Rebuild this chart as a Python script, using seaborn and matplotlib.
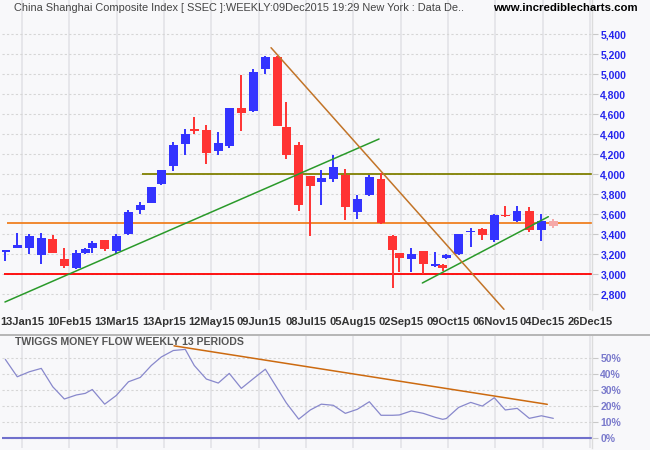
import numpy as np
import pandas as pd
import matplotlib
matplotlib.use("Agg")
import matplotlib.pyplot as plt
import seaborn as sns

# --- DATA ---
# x in bar units: 0 = 13Jan15 gridline, 4 bars per gridline
candle_x = [-1.41, -0.40, 0.62, 1.63, 2.60, 3.58, 4.59, 5.35, 5.94, 6.99,
            7.97, 9.00, 10.00, 10.93, 11.78, 12.79, 13.80, 14.56, 15.58, 16.59,
            17.52, 18.54, 19.55, 20.57, 21.58, 22.34, 23.39, 24.37, 25.30, 26.31,
            27.33, 28.34, 29.36, 30.35, 31.32, 31.89, 32.91, 33.92, 34.94, 35.56,
            35.87, 36.91, 37.93, 38.91, 39.92, 40.85, 41.86, 42.88, 43.90, 44.91]
opens = [3225, 3263, 3263, 3193, 3350, 3150, 3063, 3210, 3260, 3340,
         3230, 3400, 3640, 3713, 3900, 4083, 4303, 4445, 4440, 4233,
         4283, 4660, 4630, 5053, 5167, 4467, 4287, 3980, 3923, 3953,
         3993, 3623, 3793, 3950, 3380, 3207, 3153, 3230, 3080, 3087,
         3157, 3200, 3417, 3450, 3340, 3593, 3533, 3630, 3443, 3530]
closes = [3240, 3290, 3380, 3360, 3213, 3083, 3210, 3247, 3313, 3250,
          3380, 3620, 3690, 3870, 4040, 4290, 4400, 4435, 4213, 4307,
          4660, 4613, 5020, 5167, 4483, 4193, 3693, 3883, 3960, 4070,
          3673, 3747, 3970, 3510, 3243, 3163, 3197, 3103, 3100, 3060,
          3187, 3400, 3427, 3393, 3590, 3583, 3630, 3440, 3530, 3483]
highs = [3245, 3413, 3400, 3413, 3390, 3260, 3240, 3260, 3330, 3340,
         3403, 3640, 3717, 3875, 4045, 4320, 4450, 4570, 4490, 4420,
         4665, 4990, 5050, 5183, 5180, 4720, 4320, 3985, 4040, 4190,
         4050, 3790, 3993, 4010, 3390, 3210, 3257, 3230, 3220, 3103,
         3197, 3405, 3457, 3463, 3600, 3680, 3680, 3670, 3600, 3550]
lows = [3135, 3260, 3200, 3100, 3213, 3063, 3047, 3200, 3210, 3233,
        3203, 3390, 3603, 3710, 3890, 4033, 4190, 4400, 4100, 4190,
        4263, 4433, 4623, 5003, 4480, 4147, 3633, 3383, 3693, 3923,
        3543, 3553, 3783, 3500, 2863, 3023, 3023, 3003, 3075, 3030,
        3147, 3190, 3273, 3340, 3323, 3573, 3523, 3423, 3330, 3463]

tmf = [49.0, 38.2, 41.3, 43.4, 32.0, 24.4, 26.9, 27.9, 30.3, 21.2,
       26.6, 35.1, 37.8, 45.2, 50.5, 54.5, 55.2, 45.2, 36.8, 34.3,
       40.3, 31.0, 37.0, 42.9, 31.0, 22.0, 11.9, 17.6, 21.2, 20.5,
       15.5, 18.0, 22.7, 14.3, 14.3, 14.5, 17.0, 15.5, 13.0, 11.8,
       12.3, 19.2, 22.3, 20.0, 25.2, 17.6, 18.6, 12.4, 14.0, 12.4]

tick_pos = list(range(0, 49, 4))
tick_labels = ["13Jan15", "10Feb15", "13Mar15", "13Apr15", "12May15", "09Jun15",
               "08Jul15", "05Aug15", "02Sep15", "09Oct15", "06Nov15", "04Dec15",
               "26Dec15"]
price_ticks = list(range(2800, 5401, 200))
tmf_ticks = [0, 10, 20, 30, 40, 50]

# support / resistance levels: (price, start x)
level_olive = (4000, 10.14)
level_orange = (3510, -1.27)
level_red = (3000, -1.52)

# trendlines: x pair, y pair
green1_x, green1_y = [-1.44, 30.18], [2720, 4350]
green2_x, green2_y = [33.84, 44.49], [2910, 3573]
brown_x, brown_y = [21.05, 40.74], [5263, 2647]
tmf_trend_x, tmf_trend_y = [12.85, 44.40], [57.4, 21.1]

# --- STYLE ---
BG = "#f8f8fa"
UP = "#3333ff"
DOWN = "#ff3333"
LAST = "#f5a9a9"


def generate_graph():
    sns.set_style("whitegrid")
    plt.rcParams["font.family"] = ["Liberation Sans", "DejaVu Sans"]

    fig = plt.figure(figsize=(6.5, 4.5), dpi=100, facecolor=BG)
    W, H = 650.0, 450.0
    ax1 = fig.add_axes([2 / W, 1 - 310 / H, 590 / W, 310 / H])
    ax2 = fig.add_axes([2 / W, 1 - 448 / H, 590 / W, 112 / H])

    df = pd.DataFrame({"x": candle_x, "open": opens, "close": closes,
                       "high": highs, "low": lows, "tmf": tmf})

    xlim = (-1.69, 48.18)
    for ax in (ax1, ax2):
        ax.set_facecolor(BG)
        ax.set_xlim(*xlim)
        ax.set_xticks(tick_pos)
        ax.grid(axis="x", color="#e6e6ea", linewidth=1.4, linestyle="-")
        ax.grid(axis="y", color="#d6d6d6", linewidth=0.8, linestyle=(0, (2, 2)))
        for s in ("top", "left", "bottom"):
            ax.spines[s].set_visible(False)
        ax.spines["right"].set_color("#dcdcdc")
        ax.spines["right"].set_linewidth(1.0)
        ax.yaxis.tick_right()

    # --- PRICE PANEL ---
    ax1.set_ylim(2640, 5740)
    colors = []
    for i, r in df.iterrows():
        if i == len(df) - 1:
            colors.append(LAST)  # current (incomplete) week
        elif r["close"] >= r["open"]:
            colors.append(UP)
        else:
            colors.append(DOWN)

    ax1.vlines(df["x"], df["low"], df["high"], colors=colors, linewidth=1.4, zorder=3)
    bottoms = np.minimum(df["open"], df["close"])
    heights = np.maximum(np.abs(df["close"] - df["open"]), 12)
    ax1.bar(df["x"], heights, bottom=bottoms, width=0.72, color=colors,
            linewidth=0, zorder=4)

    ax1.hlines(level_olive[0], level_olive[1], xlim[1], color="#808000", linewidth=1.3, zorder=2)
    ax1.hlines(level_orange[0], level_orange[1], xlim[1], color="#f08020", linewidth=1.3, zorder=2)
    ax1.hlines(level_red[0], level_red[1], xlim[1], color="#ff0000", linewidth=1.3, zorder=2)

    sns.lineplot(x=green1_x, y=green1_y, ax=ax1, color="#2a9a2a", linewidth=1.1, zorder=5)
    sns.lineplot(x=green2_x, y=green2_y, ax=ax1, color="#2a9a2a", linewidth=1.1, zorder=5)
    sns.lineplot(x=brown_x, y=brown_y, ax=ax1, color="#c27428", linewidth=1.1, zorder=5)

    ax1.set_yticks(price_ticks)
    ax1.set_yticklabels([f"{v:,}" for v in price_ticks], color="#2525ee",
                        fontsize=7.5, fontweight="bold")
    ax1.set_xticklabels(tick_labels, fontsize=8, fontweight="bold", color="#333333")
    ax1.tick_params(axis="y", length=4, color="#c8c8c8", pad=2)
    ax1.tick_params(axis="x", length=0, pad=5)
    ax1.set_xlabel("")
    ax1.set_ylabel("")

    # --- TWIGGS MONEY FLOW PANEL ---
    ax2.set_ylim(-6.0, 63.5)
    sns.lineplot(data=df, x="x", y="tmf", ax=ax2, color="#8888cc", linewidth=0.9, zorder=3)
    ax2.axhline(0, color="#7070cc", linewidth=1.5, zorder=2)
    sns.lineplot(x=tmf_trend_x, y=tmf_trend_y, ax=ax2, color="#cc6a10", linewidth=1.1, zorder=4)
    ax2.set_yticks(tmf_ticks)
    ax2.set_yticklabels([f"{v}%" for v in tmf_ticks], color="#7a7acc",
                        fontsize=7.5, fontweight="bold")
    ax2.set_xticklabels([])
    ax2.tick_params(axis="y", length=4, color="#c8c8c8", pad=2)
    ax2.tick_params(axis="x", length=0)
    ax2.set_xlabel("")
    ax2.set_ylabel("")

    # separator between panels
    fig.add_artist(plt.Line2D([0, 1], [1 - 335 / H, 1 - 335 / H], color="#aaaaaa",
                              linewidth=1.2, transform=fig.transFigure))

    # --- TITLES ---
    fig.text(14 / W, 1 - 8 / H, "China Shanghai Composite Index [ SSEC ]:WEEKLY:09Dec2015 19:29 New York : Data De..",
             fontsize=7.9, color="#444444", va="center", ha="left")
    fig.text(638 / W, 1 - 8 / H, "www.incrediblecharts.com", fontsize=8.2, fontweight="bold",
             color="#000000", va="center", ha="right")
    fig.text(15 / W, 1 - 342 / H, "TWIGGS MONEY FLOW WEEKLY 13 PERIODS", fontsize=7.6,
             fontweight="bold", color="#555555", va="center", ha="left")

    fig.savefig("out.png", dpi=100, facecolor=BG)


if __name__ == "__main__":
    generate_graph()
